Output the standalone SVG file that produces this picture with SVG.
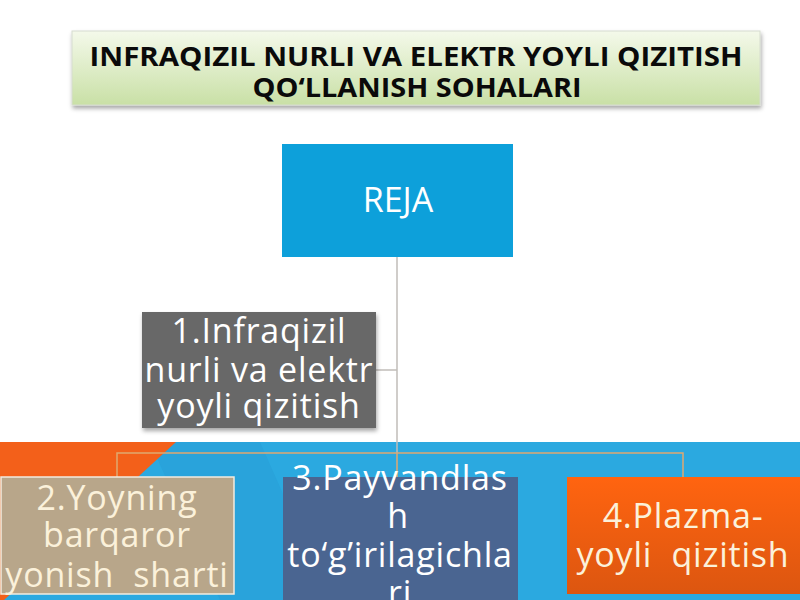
<svg xmlns="http://www.w3.org/2000/svg" width="800" height="600" viewBox="0 0 800 600">
<defs>
<linearGradient id="gTitle" x1="0" y1="0" x2="0" y2="1">
<stop offset="0" stop-color="#f4f9ea"/>
<stop offset="1" stop-color="#c9e0a6"/>
</linearGradient>
<linearGradient id="gOrange" x1="0" y1="0" x2="0" y2="1">
<stop offset="0" stop-color="#ff6410"/>
<stop offset="1" stop-color="#dc5610"/>
</linearGradient>
<filter id="sh" x="-10%" y="-10%" width="120%" height="130%">
<feDropShadow dx="1" dy="3" stdDeviation="2" flood-color="#000" flood-opacity="0.35"/>
</filter>
</defs>
<style>
.t{font-family:"Open Sans","Noto Sans","DejaVu Sans",sans-serif;text-anchor:middle;white-space:pre}
.w{fill:#ffffff;font-size:34px;letter-spacing:0.8px}
.c{fill:#fbf1da;font-size:34px;letter-spacing:0.8px}
.ttl{font-weight:bold;font-size:26px;fill:#0a0a0a}
.ln{fill:none;stroke-width:1.5}
</style>
<rect x="0" y="0" width="800" height="600" fill="#ffffff"/>
<!-- bottom background -->
<rect x="0" y="442" width="800" height="158" fill="#2ba9e0"/>
<polygon points="150,442 260,442 330,600 220,600" fill="#2699d0" opacity="0.35"/>
<polygon points="0,442 176,442 4,600 0,600" fill="#f3601a"/>

<g id="title">
<rect x="72" y="31" width="688" height="74" fill="url(#gTitle)" stroke="#d6dccf" stroke-width="1" filter="url(#sh)"/>
<text class="t ttl" x="416" y="66" textLength="653" lengthAdjust="spacingAndGlyphs">INFRAQIZIL NURLI VA ELEKTR YOYLI QIZITISH</text>
<text class="t ttl" x="417" y="97" textLength="329" lengthAdjust="spacingAndGlyphs">QO‘LLANISH SOHALARI</text>
</g>

<g id="connectors">
<line class="ln" x1="397" y1="257" x2="397" y2="453" stroke="#c0bcb8"/>
<line class="ln" x1="376" y1="370" x2="397" y2="370" stroke="#c0bcb8"/>
<polyline class="ln" points="117,477 117,453 683,453 683,477" stroke="#e0a870"/>
<line class="ln" x1="397" y1="453" x2="397" y2="477" stroke="#e0a870"/>
</g>

<g id="reja">
<rect x="282" y="144" width="231" height="113" fill="#0da0da"/>
<text class="t" x="398" y="212" style="fill:#fff;font-size:34px">REJA</text>
</g>

<g id="node1">
<rect x="142" y="312" width="234" height="116" fill="#676767" filter="url(#sh)"/>
<text class="t w" x="259" y="343">1.Infraqizil</text>
<text class="t w" x="259" y="382">nurli va elektr</text>
<text class="t w" x="259" y="418">yoyli qizitish</text>
</g>

<g id="node2">
<rect x="1" y="477" width="233" height="117" fill="#b8a68a" stroke="#f2ece0" stroke-width="1.5"/>
<text class="t c" x="117" y="510">2.Yoyning</text>
<text class="t c" x="117" y="547">barqaror</text>
<text class="t c" x="117" y="587">yonish  sharti</text>
</g>

<g id="node3">
<rect x="283" y="477" width="235" height="123" fill="#4a6591"/>
<text class="t w" x="400" y="490">3.Payvandlas</text>
<text class="t w" x="398" y="528">h</text>
<text class="t w" x="400" y="567">to‘g’irilagichla</text>
<text class="t w" x="400" y="605">ri</text>
</g>

<g id="node4">
<rect x="567" y="477" width="233" height="117" fill="url(#gOrange)"/>
<text class="t c" x="683" y="528">4.Plazma-</text>
<text class="t c" x="683" y="567">yoyli  qizitish</text>
</g>
</svg>
